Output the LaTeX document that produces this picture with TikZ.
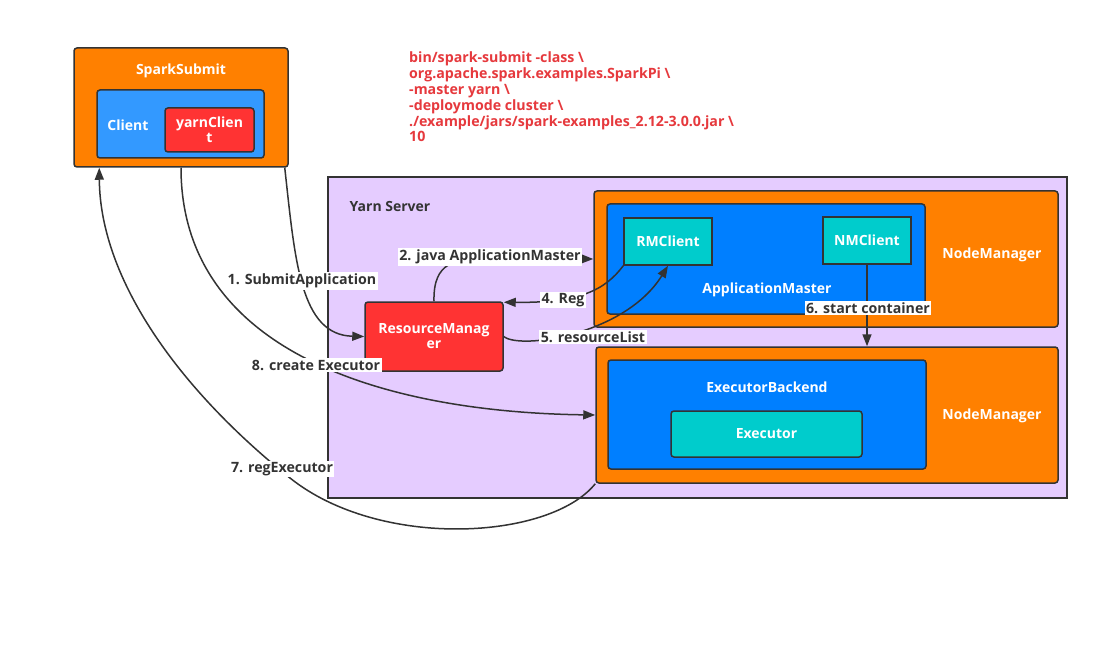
\documentclass[tikz,border=0pt]{standalone}
\usepackage{fontspec}
\setmainfont{Open Sans}
\usetikzlibrary{arrows.meta,calc}
\definecolor{edgec}{HTML}{333333}
\definecolor{orangec}{HTML}{FF8000}
\definecolor{clientc}{HTML}{3399FF}
\definecolor{bluec}{HTML}{007FFF}
\definecolor{redc}{HTML}{FF3333}
\definecolor{tealc}{HTML}{00CCCC}
\definecolor{yarnc}{HTML}{E5CCFF}
\definecolor{cmdc}{HTML}{E6393D}
\begin{document}
\begin{tikzpicture}[x=1pt,y=-1pt,
  box/.style={draw=edgec, line width=1.5pt, rounded corners=3pt, inner sep=0pt, align=center,
    text=white, font=\fontsize{14}{15}\selectfont\bfseries},
  lab/.style={text=white, font=\fontsize{14}{15}\selectfont\bfseries, inner sep=0pt},
  elab/.style={fill=white, text=edgec, font=\fontsize{14.2}{15}\selectfont\bfseries, inner sep=1.5pt},
  conn/.style={draw=edgec, line width=1.5pt, -{Triangle[length=12pt,width=9pt]}},
  link/.style={draw=edgec, line width=1.5pt}
]
\useasboundingbox (0,0) rectangle (1098,663);
\fill[white] (0,0) rectangle (1098,663);

% SparkSubmit
\node[box, fill=orangec, minimum width=214pt, minimum height=119pt] (ss) at (181,107.5) {};
\node[lab] (sst) at (181,71) {SparkSubmit};
\node[box, fill=clientc, minimum width=167pt, minimum height=68pt] (cl) at (180.5,124) {};
\node[lab] (clt) at (128,125) {Client};
\node[box, fill=redc, minimum width=89pt, minimum height=44pt] (yc) at (209.5,130) {yarnClien\\t};

% command text
\node[text=cmdc, font=\fontsize{14.2}{15.8}\selectfont\bfseries, align=left, anchor=north west, inner sep=0pt] (cmd) at (409,52)
 {bin/spark-submit -class \textbackslash\\
  org.apache.spark.examples.SparkPi \textbackslash\\
  -master yarn \textbackslash\\
  -deploymode cluster \textbackslash\\
  ./example/jars/spark-examples\_2.12-3.0.0.jar \textbackslash\\
  10};

% Yarn server
\node[draw=edgec, line width=1.5pt, fill=yarnc, minimum width=739pt, minimum height=321pt, inner sep=0pt] (ys) at (697.5,337.5) {};
\node[lab, text=edgec] (yst) at (390,207) {Yarn Server};

% NodeManager 1
\node[box, fill=orangec, minimum width=464pt, minimum height=136pt] (nm1) at (826,259) {};
\node[lab] (nm1t) at (992,255) {NodeManager};
\node[box, fill=bluec, minimum width=318pt, minimum height=110pt] (am) at (766,259) {};
\node[lab] (amt) at (767,290) {ApplicationMaster};
\node[box, fill=tealc, rounded corners=0pt, minimum width=88pt, minimum height=47pt] (rmc) at (668,241.5) {RMClient};
\node[box, fill=tealc, rounded corners=0pt, minimum width=88pt, minimum height=47pt] (nmc) at (867,240.5) {NMClient};

% NodeManager 2
\node[box, fill=orangec, minimum width=462pt, minimum height=136pt] (nm2) at (827,415) {};
\node[lab] (nm2t) at (992,416) {NodeManager};
\node[box, fill=bluec, minimum width=318pt, minimum height=109pt] (eb) at (767,414.5) {};
\node[lab] (ebt) at (767,387) {ExecutorBackend};
\node[box, fill=tealc, minimum width=191pt, minimum height=46pt] (ex) at (766.5,434) {Executor};

% ResourceManager
\node[box, fill=redc, minimum width=138pt, minimum height=69pt] (rm) at (434,336.5) {ResourceManag\\er};

% connectors
\draw[conn] ([xshift=-4pt]ss.south east) .. controls (295,260) and (300,335) .. (rm.west);
\draw[conn] (rm.north) .. controls (433,262) and (455,258) .. (490,258) -- (nm1.west);
\draw[conn] (rmc.south west) .. controls (605,290) and (580,303) .. ([yshift=-1pt]rm.north east);
\draw[conn] (rm.east) .. controls (520,350) and (625,335) .. (rmc.south);
\draw[conn] (nmc.south) -- (nmc.south |- nm2.north);
\draw[conn] (ss.south) .. controls (181,350) and (380,412) .. (nm2.west);
\coordinate (mid7) at (290,478);
\draw[conn] (nm2.south west) .. controls (550,540) and (380,550) .. (mid7)
   .. controls (180,390) and (100,280) .. ($(ss.south west)+(26,0)$);

% labels
\node[elab] (l1) at (302,281) {1. SubmitApplication};
\node[elab] (l2) at (490,257) {2. java ApplicationMaster};
\node[elab] (l4) at (563,300) {4. Reg};
\node[elab] (l5) at (593,337) {5. resourceList};
\node[elab] (l6) at (868,308) {6. start container};
\node[elab] (l7) at (282,469) {7. regExecutor};
\node[elab] (l8) at (316,365) {8. create Executor};
\end{tikzpicture}
\end{document}
